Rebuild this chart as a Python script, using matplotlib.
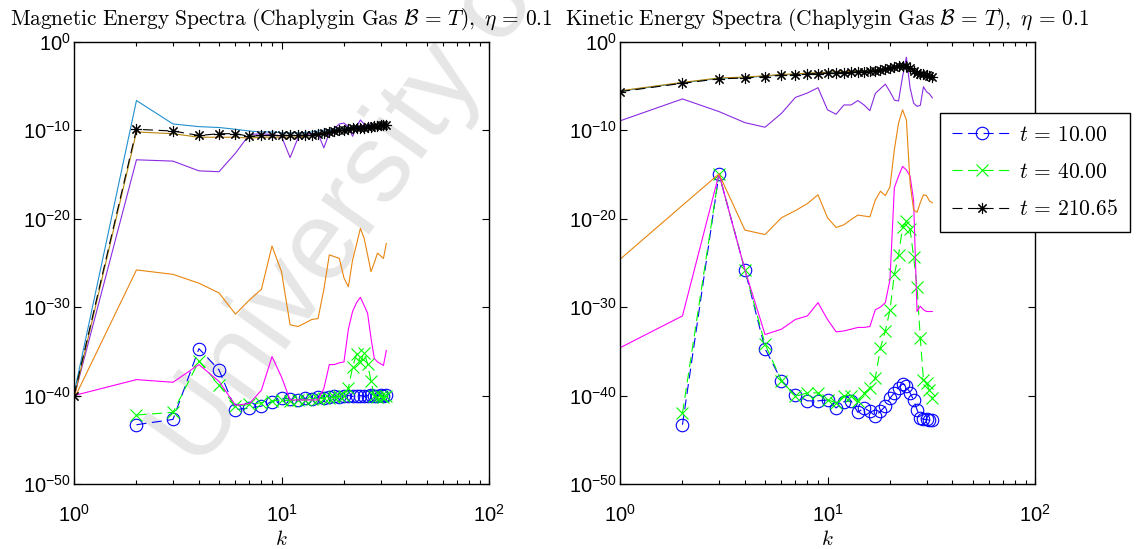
import numpy as np
import matplotlib
matplotlib.use("Agg")
import matplotlib.pyplot as plt
from matplotlib.ticker import FixedLocator, LogLocator, NullFormatter

plt.rcParams["font.family"] = ["Liberation Sans", "DejaVu Sans"]
plt.rcParams["mathtext.fontset"] = "custom"
plt.rcParams["mathtext.rm"] = "Liberation Sans"
plt.rcParams["mathtext.it"] = "Liberation Sans:italic"
plt.rcParams["mathtext.sf"] = "Liberation Sans"

# wavenumbers
k = np.arange(1, 33)

# log10 of magnetic energy spectra (left panel)
mag_t10 = [np.nan, -43.3, -42.7, -34.7, -37.1, -41.6, -41.4, -41.2, -40.7, -40.3,
           -40.4, -40.5, -40.3, -40.4, -40.2, -40.3, -40.2, -40.1, -40.2, -40.1,
           -40.0, -40.1, -40.0, -40.0, -40.1, -40.0, -39.9, -40.0, -40.0, -39.9,
           -40.0, -39.9]
mag_t40 = [np.nan, -42.2, -41.9, -36.1, -38.8, -41.2, -41.0, -40.8, -40.6, -40.5,
           -40.6, -40.5, -40.5, -40.4, -40.4, -40.3, -40.3, -40.2, -40.1, -40.0,
           -39.2, -36.8, -35.3, -36.2, -35.2, -36.4, -38.4, -40.0, -40.2, -40.1,
           -40.2, -40.1]
mag_t210 = [-40.0, -9.9, -10.1, -10.6, -10.4, -10.4, -10.7, -10.6, -10.6, -10.6,
            -10.6, -10.6, -10.55, -10.5, -10.4, -10.3, -10.2, -10.1, -10.0, -9.95,
            -9.9, -9.8, -9.75, -9.7, -9.7, -9.6, -9.6, -9.55, -9.5, -9.45,
            -9.4, -9.4]
mag_magenta = [-40.0, -38.2, -38.5, -36.5, -38.4, -41.1, -40.9, -39.4, -35.6, -37.9,
               -40.5, -40.5, -40.5, -40.5, -40.5, -39.2, -36.5, -36.5, -36.3, -36.2,
               -32.5, -30.5, -29.5, -28.9, -29.8, -30.7, -33.5, -35.8, -36.2, -36.4,
               -36.6, -34.9]
mag_orange = [-40.4, -25.8, -26.3, -27.3, -28.4, -30.8, -29.2, -28.0, -23.1, -26.0,
              -32.0, -32.2, -31.8, -31.4, -31.3, -28.0, -24.1, -24.3, -24.5, -26.7,
              -27.7, -24.7, -22.9, -21.1, -22.2, -24.1, -26.0, -25.0, -23.9, -24.2,
              -24.5, -22.8]
mag_purple = [-40.2, -13.35, -13.5, -14.6, -14.7, -12.6, -10.5, -10.4, -10.5, -10.7,
              -13.1, -10.9, -10.5, -10.4, -10.4, -12.0, -10.3, -9.8, -9.3, -9.2,
              -9.6, -10.7, -9.6, -8.85, -9.3, -9.6, -9.2, -9.5, -9.9, -9.3,
              -9.2, -9.6]
mag_cyan = [-39.8, -6.65, -9.3, -9.6, -9.7, -9.9, -10.1, -10.2, -10.2, -10.3,
            -10.3, -10.3, -10.25, -10.2, -10.1, -10.0, -9.95, -9.9, -9.85, -9.8,
            -9.75, -9.7, -9.65, -9.6, -9.6, -9.55, -9.5, -9.5, -9.45, -9.4,
            -9.4, -9.35]
mag_gold = [-40.3, -10.2, -10.4, -10.8, -10.8, -10.8, -10.9, -10.8, -10.8, -10.8,
            -10.8, -10.8, -10.7, -10.6, -10.5, -10.4, -10.3, -10.2, -10.1, -10.0,
            -10.0, -9.9, -9.9, -9.8, -9.8, -9.7, -9.7, -9.7, -9.6, -9.6,
            -9.5, -9.5]

# log10 of kinetic energy spectra (right panel)
kin_t10 = [np.nan, -43.3, -14.95, -25.8, -34.7, -38.3, -39.9, -40.6, -40.6, -40.5,
           -41.4, -40.7, -40.6, -41.9, -41.4, -41.8, -42.3, -41.8, -41.2, -40.3,
           -39.7, -39.1, -38.7, -38.9, -39.7, -40.5, -41.6, -42.5, -42.7, -42.7,
           -42.8, -42.8]
kin_t40 = [np.nan, -42.0, -14.95, -25.8, -34.2, -38.3, -40.1, -39.7, -39.7, -40.5,
           -40.8, -40.0, -40.0, -40.6, -39.7, -39.2, -38.0, -34.6, -32.7, -30.3,
           -26.3, -24.1, -21.0, -20.3, -21.2, -24.3, -27.7, -33.5, -38.2, -38.6,
           -39.4, -40.3]
kin_t210 = [-5.65, -4.7, -4.2, -4.1, -3.95, -3.8, -3.75, -3.65, -3.6, -3.55,
            -3.5, -3.5, -3.45, -3.4, -3.4, -3.35, -3.3, -3.2, -3.1, -3.0,
            -2.9, -2.8, -2.75, -2.8, -3.0, -3.3, -3.5, -3.6, -3.7, -3.8,
            -3.85, -3.95]
kin_magenta = [-34.6, -31.0, -14.95, -25.8, -33.1, -32.5, -31.4, -31.0, -29.5, -31.4,
               -32.8, -32.7, -32.5, -32.3, -32.3, -32.2, -30.3, -30.0, -29.5, -26.9,
               -16.5, -15.2, -14.1, -14.5, -15.2, -17.9, -30.5, -29.9, -30.3, -30.5,
               -30.5, -30.5]
kin_orange = [-24.6, -18.5, -14.95, -21.3, -21.8, -19.9, -19.1, -18.3, -17.3, -19.9,
              -21.0, -20.7, -20.1, -19.6, -19.7, -19.8, -17.9, -16.9, -17.4, -16.4,
              -12.2, -9.2, -7.7, -8.85, -16.0, -19.0, -19.3, -18.2, -17.3, -17.4,
              -18.0, -18.2]
kin_purple = [-8.95, -6.47, -7.9, -9.15, -9.67, -8.1, -6.3, -5.8, -5.2, -7.7,
              -8.2, -7.15, -7.15, -6.65, -7.15, -7.8, -5.85, -5.3, -4.8, -5.65,
              -6.6, -6.7, -3.95, -1.75, -5.2, -6.95, -7.3, -7.2, -5.1, -5.65,
              -5.9, -6.35]
kin_cyan = [-5.6, -4.65, -4.15, -4.05, -3.9, -3.75, -3.7, -3.6, -3.55, -3.5,
            -3.45, -3.45, -3.4, -3.35, -3.35, -3.3, -3.25, -3.15, -3.05, -2.95,
            -2.85, -2.75, -2.7, -2.75, -2.95, -3.25, -3.45, -3.55, -3.65, -3.75,
            -3.8, -3.9]
kin_gold = [-5.55, -4.6, -4.1, -4.0, -3.85, -3.7, -3.65, -3.55, -3.5, -3.45,
            -3.4, -3.4, -3.35, -3.3, -3.3, -3.25, -3.2, -3.1, -3.0, -2.9,
            -2.8, -2.7, -2.65, -2.7, -2.9, -3.2, -3.4, -3.5, -3.6, -3.7,
            -3.75, -3.85]

legend_labels = [r"$t\,=\,10.00$", r"$t\,=\,40.00$", r"$t\,=\,210.65$"]
titles = [r"$\mathrm{Magnetic\ Energy\ Spectra\ (Chaplygin\ Gas\ }\mathcal{B}\,=\,T\mathrm{),\ }\eta\,=\,0.1$",
          r"$\mathrm{Kinetic\ Energy\ Spectra\ (Chaplygin\ Gas\ }\mathcal{B}\,=\,T\mathrm{),\ }\eta\,=\,0.1$"]

C_MAGENTA = "#ff00ff"
C_ORANGE = "#e8850f"
C_PURPLE = "#8a2be2"
C_CYAN = "#1f8fd0"
C_GOLD = "#b8860b"

W, H = 1137, 549
fig = plt.figure(figsize=(W / 100, H / 100), dpi=100)

# watermark behind the axes
fig.text(200 / W, 1 - 472 / H, "University of", rotation=54.5,
         rotation_mode="anchor", ha="left", va="baseline", fontsize=80,
         color="#e6e6e6", zorder=-5)

ax_l = fig.add_axes([74 / W, 1 - 484 / H, 415 / W, 442.3 / H])
ax_r = fig.add_axes([620 / W, 1 - 484 / H, 415 / W, 442.3 / H])

dash = (0, (9, 5))
panels = [
    (ax_l, mag_magenta, mag_orange, mag_purple, mag_cyan, mag_gold, mag_t10, mag_t40, mag_t210),
    (ax_r, kin_magenta, kin_orange, kin_purple, kin_cyan, kin_gold, kin_t10, kin_t40, kin_t210),
]
for i, (ax, m, o, p, c, g, a, b, z) in enumerate(panels):
    ax.set_facecolor("none")
    l1, = ax.plot(k, 10.0 ** np.array(a), color="#0000ff", ls=dash, lw=0.8,
                  marker="o", ms=9, mfc="none", mew=0.8)
    l2, = ax.plot(k, 10.0 ** np.array(b), color="#00ff00", ls=dash, lw=0.8,
                  marker="x", ms=9, mew=0.8)
    ax.plot(k, 10.0 ** np.array(m), color=C_MAGENTA, lw=0.8)
    ax.plot(k, 10.0 ** np.array(o), color=C_ORANGE, lw=0.8)
    ax.plot(k, 10.0 ** np.array(p), color=C_PURPLE, lw=0.8)
    ax.plot(k, 10.0 ** np.array(c), color=C_CYAN, lw=0.8)
    ax.plot(k, 10.0 ** np.array(g), color=C_GOLD, lw=0.8)
    l3, = ax.plot(k, 10.0 ** np.array(z), color="black", ls=dash, lw=0.8,
                  marker=(8, 2, 0), ms=8, mew=0.8)

    ax.set_xscale("log")
    ax.set_yscale("log")
    ax.set_xlim(1, 100)
    ax.set_ylim(1e-50, 1)
    ax.yaxis.set_major_locator(FixedLocator([10.0 ** e for e in range(-50, 1, 10)]))
    ax.yaxis.set_minor_locator(FixedLocator([]))
    ax.xaxis.set_major_locator(FixedLocator([1, 10, 100]))
    ax.xaxis.set_minor_locator(LogLocator(base=10, subs=np.arange(2, 10)))
    ax.xaxis.set_minor_formatter(NullFormatter())
    ax.tick_params(which="both", direction="in", top=True, right=True,
                   labelsize=14.5, width=0.8)
    ax.tick_params(which="major", length=5)
    ax.tick_params(which="minor", length=3)
    ax.tick_params(axis="x", which="major", pad=14)
    ax.tick_params(axis="y", which="major", pad=2)
    for s in ax.spines.values():
        s.set_linewidth(1.0)
    ax.set_xlabel("$k$", fontsize=15, math_fontfamily="cm", labelpad=3)
    ax.set_title(titles[i], fontsize=15.4, math_fontfamily="cm", pad=12)

leg = ax_r.legend([l1, l2, l3], legend_labels, loc="upper left",
                  bbox_to_anchor=(940 / W, 1 - 113 / H), bbox_transform=fig.transFigure,
                  borderaxespad=0, fancybox=False, framealpha=1, edgecolor="black",
                  handlelength=2.8, handletextpad=0.3, labelspacing=0.75,
                  borderpad=0.55,
                  prop={"size": 15.5, "math_fontfamily": "cm"})
leg.get_frame().set_linewidth(1.0)

fig.savefig("out.png", dpi=100)
